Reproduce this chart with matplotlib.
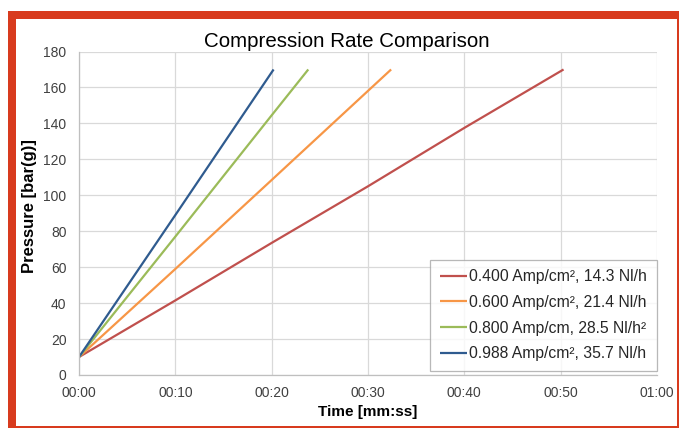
import matplotlib
matplotlib.use("Agg")
import matplotlib.pyplot as plt
from matplotlib.patches import Rectangle
from matplotlib.ticker import FuncFormatter

plt.rcParams['font.family'] = ['Liberation Sans', 'DejaVu Sans']

# Data (time in seconds, pressure in bar(g))
t_040 = [0, 10, 20, 30, 40, 50.3]
p_040 = [10, 41.5, 73.5, 105, 137.5, 170]
t_060 = [0, 10, 20, 32.4]
p_060 = [10, 59, 108.5, 170]
t_080 = [0, 10, 20, 23.8]
p_080 = [10, 77, 144.5, 170]
t_099 = [0, 10, 20.2]
p_099 = [10, 89, 170]

labels = ["0.400 Amp/cm², 14.3 Nl/h",
          "0.600 Amp/cm², 21.4 Nl/h",
          "0.800 Amp/cm, 28.5 Nl/h²",
          "0.988 Amp/cm², 35.7 Nl/h"]
colors = ["#C0504D", "#F79646", "#9BBB59", "#2F5B8F"]

x_ticks = [0, 10, 20, 30, 40, 50, 60]
y_ticks = [0, 20, 40, 60, 80, 100, 120, 140, 160, 180]

W, H = 684, 428
fig = plt.figure(figsize=(W / 100, H / 100), dpi=100)
ax = fig.add_axes([79 / W, 1 - 375 / H, (657 - 79) / W, (375 - 51.5) / H])

series = [(t_040, p_040), (t_060, p_060), (t_080, p_080), (t_099, p_099)]
for (t, p), lab, c in zip(series, labels, colors):
    ax.plot(t, p, color=c, lw=1.6, label=lab, solid_capstyle='butt')

ax.set_xlim(0, 60)
ax.set_ylim(0, 180)
ax.set_xticks(x_ticks)
ax.set_yticks(y_ticks)
ax.xaxis.set_major_formatter(FuncFormatter(lambda v, pos: "%02d:%02d" % (int(v) // 60, int(v) % 60)))
ax.grid(True, color="#D9D9D9", lw=0.9)
ax.set_axisbelow(True)
for s in ['top', 'right']:
    ax.spines[s].set_visible(False)
for s in ['left', 'bottom']:
    ax.spines[s].set_color("#BFBFBF")
    ax.spines[s].set_linewidth(0.9)
ax.tick_params(axis='both', length=0, labelsize=10, labelcolor="#404040")
ax.tick_params(axis='x', pad=8)
ax.tick_params(axis='y', pad=9)

leg = ax.legend(loc='lower right', bbox_to_anchor=((656.5 - 79) / (657 - 79), (375 - 370.7) / (375 - 51.5)),
                fontsize=11.3, frameon=True, fancybox=False, edgecolor="#A6A6A6",
                handlelength=1.75, handletextpad=0.12, labelspacing=0.68,
                borderpad=0.6, borderaxespad=0)
leg.get_frame().set_linewidth(0.9)
for txt in leg.get_texts():
    txt.set_color("#262626")

fig.text(347 / W, 1 - 46.7 / H, "Compression Rate Comparison", ha='center', va='baseline',
         fontsize=14.8, color="#000000")
fig.text(30 / W, 1 - 206 / H, "Pressure [bar(g)]", rotation=90, ha='center', va='center',
         fontsize=12, fontweight='bold', color="#000000")
fig.text(367.5 / W, 1 - 412 / H, "Time [mm:ss]", ha='center', va='center',
         fontsize=11, fontweight='bold', color="#000000")

# Frame border
border = "#D83B1E"
def rect(x0, y0, x1, y1):
    fig.add_artist(Rectangle((x0 / W, 1 - y1 / H), (x1 - x0) / W, (y1 - y0) / H,
                             transform=fig.transFigure, facecolor=border, edgecolor='none', zorder=10))
rect(8, 10.7, 16, 428)      # left
rect(8, 10.7, 679, 18.7)    # top
rect(677, 10.7, 679, 428)   # right
rect(8, 426.3, 679, 428)    # bottom

fig.savefig("out.png", dpi=100)
